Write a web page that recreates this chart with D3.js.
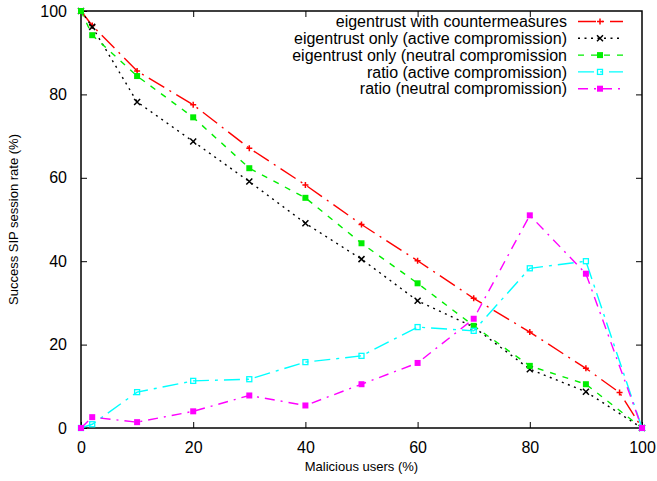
<!DOCTYPE html>
<html>
<head>
<meta charset="utf-8">
<script src="https://cdn.jsdelivr.net/npm/d3@7"></script>
<style>
  body { margin: 0; background: #fff; }
  svg { display: block; font-family: "Liberation Sans", Arial, Helvetica, sans-serif; }
</style>
</head>
<body>
<svg id="chart" width="657" height="481"></svg>
<script>
// ---- data ----
const xTicks = [0, 20, 40, 60, 80, 100];
const yTicks = [0, 20, 40, 60, 80, 100];

const redX = [0, 2, 10, 20, 30, 40, 50, 60, 70, 80, 90, 96, 100];
const redY = [100, 96.5, 85.6, 77.5, 67.1, 58.3, 48.8, 40.1, 31.1, 23.0, 14.3, 8.5, 0];

const blackX = [0, 2, 10, 20, 30, 40, 50, 60, 70, 80, 90, 100];
const blackY = [100, 96.2, 78.2, 68.7, 59.1, 49.1, 40.5, 30.5, 24.2, 14.1, 8.7, 0];

const greenX = [0, 2, 10, 20, 30, 40, 50, 60, 70, 80, 90, 100];
const greenY = [100, 94.2, 84.4, 74.5, 62.3, 55.2, 44.3, 34.7, 24.5, 14.9, 10.5, 0];

const cyanX = [0, 2, 10, 20, 30, 40, 50, 60, 70, 80, 90, 100];
const cyanY = [0, 0.9, 8.6, 11.3, 11.7, 15.8, 17.3, 24.2, 23.3, 38.3, 40.0, 0];

const magentaX = [0, 2, 10, 20, 30, 40, 50, 60, 70, 80, 90, 100];
const magentaY = [0, 2.6, 1.4, 4.0, 7.8, 5.4, 10.5, 15.6, 26.2, 51.0, 37.0, 0];

const seriesNames = [
  "eigentrust with countermeasures",
  "eigentrust only (active compromission)",
  "eigentrust only (neutral compromission",
  "ratio (active compromission)",
  "ratio (neutral compromission)"
];

(function () {
// ---- styles ----
const series = [
  { name: seriesNames[0], x: redX, y: redY, color: "#ff0000", dash: "18,6,2,6", marker: "plus" },
  { name: seriesNames[1], x: blackX, y: blackY, color: "#000000", dash: "2,4.5", marker: "cross" },
  { name: seriesNames[2], x: greenX, y: greenY, color: "#00ee00", dash: "6,7", marker: "fsquare" },
  { name: seriesNames[3], x: cyanX, y: cyanY, color: "#00ffff", dash: "16,6,3,6", marker: "osquare" },
  { name: seriesNames[4], x: magentaX, y: magentaY, color: "#ff00ff", dash: "10,6,2,6", marker: "fsquare" }
];

const svg = d3.select("#chart");
const mLeft = 81, mRight = 642, mTop = 11, mBottom = 428;
const x = d3.scaleLinear().domain([0, 100]).range([mLeft, mRight]);
const y = d3.scaleLinear().domain([0, 100]).range([mBottom, mTop]);

// axes with inward ticks
const tickLen = 6;
svg.append("g").attr("transform", `translate(0,${mBottom})`)
  .call(d3.axisBottom(x).tickValues(xTicks).tickSizeInner(-tickLen).tickSizeOuter(0).tickPadding(14))
  .call(g => g.select(".domain").remove());
svg.append("g").attr("transform", `translate(0,${mTop})`)
  .call(d3.axisTop(x).tickValues(xTicks.slice(1, -1)).tickSizeInner(-tickLen).tickSizeOuter(0).tickFormat(""))
  .call(g => g.select(".domain").remove());
svg.append("g").attr("transform", `translate(${mLeft},0)`)
  .call(d3.axisLeft(y).tickValues(yTicks).tickSizeInner(-tickLen).tickSizeOuter(0).tickPadding(14))
  .call(g => g.select(".domain").remove());
svg.append("g").attr("transform", `translate(${mRight},0)`)
  .call(d3.axisRight(y).tickValues(yTicks.slice(1, -1)).tickSizeInner(-tickLen).tickSizeOuter(0).tickFormat(""))
  .call(g => g.select(".domain").remove());

svg.selectAll(".tick line").attr("stroke", "#000").attr("stroke-width", 1);
svg.selectAll(".tick text").attr("font-size", 16).attr("fill", "#000")
  .attr("font-family", "Liberation Sans, Arial, sans-serif");

// frame
svg.append("rect").attr("x", mLeft).attr("y", mTop)
  .attr("width", mRight - mLeft).attr("height", mBottom - mTop)
  .attr("fill", "none").attr("stroke", "#000").attr("stroke-width", 1.5);

// axis titles
svg.append("text").attr("x", (mLeft + mRight) / 2).attr("y", 471)
  .attr("text-anchor", "middle").attr("font-size", 13).text("Malicious users (%)");
svg.append("text").attr("transform", `translate(18,${(mTop + mBottom) / 2}) rotate(-90)`)
  .attr("text-anchor", "middle").attr("font-size", 13).text("Success SIP session rate (%)");

function drawMarker(g, type, cx, cy, color) {
  const s = 3;
  if (type === "plus") {
    g.append("path").attr("d", `M${cx - s},${cy}H${cx + s}M${cx},${cy - s}V${cy + s}`)
      .attr("stroke", color).attr("stroke-width", 1.5).attr("fill", "none");
  } else if (type === "cross") {
    g.append("path").attr("d", `M${cx - s},${cy - s}L${cx + s},${cy + s}M${cx - s},${cy + s}L${cx + s},${cy - s}`)
      .attr("stroke", color).attr("stroke-width", 1.5).attr("fill", "none");
  } else if (type === "fsquare") {
    g.append("rect").attr("x", cx - s).attr("y", cy - s).attr("width", 2 * s).attr("height", 2 * s)
      .attr("fill", color);
  } else if (type === "osquare") {
    g.append("rect").attr("x", cx - s + 0.5).attr("y", cy - s + 0.5).attr("width", 2 * s - 1).attr("height", 2 * s - 1)
      .attr("fill", "none").attr("stroke", color).attr("stroke-width", 1.3);
  }
}

const line = d3.line().x(d => x(d[0])).y(d => y(d[1]));

series.forEach(s => {
  const pts = s.x.map((v, i) => [v, s.y[i]]);
  const g = svg.append("g");
  g.append("path").datum(pts).attr("d", line)
    .attr("fill", "none").attr("stroke", s.color).attr("stroke-width", 1.4)
    .attr("stroke-dasharray", s.dash);
  pts.forEach(p => drawMarker(g, s.marker, x(p[0]), y(p[1]), s.color));
});

// legend
const legX = 567, legY0 = 21.5, legDy = 16.8;
series.forEach((s, i) => {
  const yy = legY0 + i * legDy;
  svg.append("text").attr("x", legX).attr("y", yy).attr("dy", "0.35em")
    .attr("text-anchor", "end").attr("font-size", 16).text(s.name);
  const g = svg.append("g");
  g.append("path").attr("d", d3.line()([[578, yy], [623, yy]]))
    .attr("stroke", s.color).attr("stroke-width", 1.4).attr("fill", "none")
    .attr("stroke-dasharray", s.dash);
  drawMarker(g, s.marker, 600, yy, s.color);
});
})();
</script>
</body>
</html>
